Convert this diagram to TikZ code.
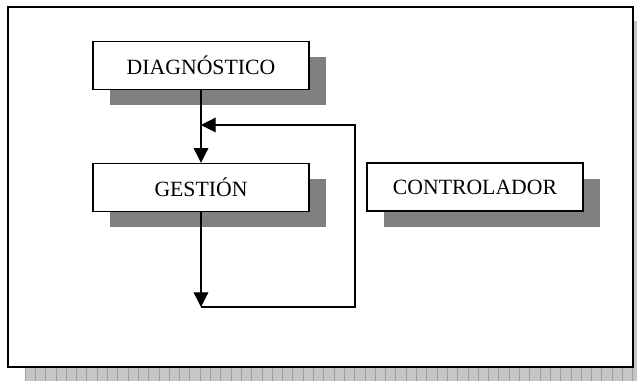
\documentclass[tikz,border=0pt]{standalone}
\usepackage{fontspec}
\setmainfont{Liberation Serif}
\usetikzlibrary{arrows.meta,shadows}

\tikzset{
  caja/.style={draw, line width=1.1pt, fill=white, minimum width=162pt,
    minimum height=36pt, inner sep=0pt, font=\fontsize{16.3}{19}\selectfont,
    drop shadow={shadow xshift=12.75pt, shadow yshift=-12pt, fill=gray, opacity=1}},
  flecha/.style={line width=0.9pt, -{Triangle[length=11pt, width=11pt]}}
}

\begin{document}
\begin{tikzpicture}[x=0.75pt, y=-0.75pt]
    \useasboundingbox (0,0) rectangle (637,381);

    % Sombra del marco
    \fill[gray!45!white] (25,21) rectangle (637,381);
    \foreach \x in {25,35.3,...,637} {
      \draw[gray!75!white, line width=0.5pt] (\x,21) -- (\x,381);
    }

    % Marco
    \draw[line width=1.5pt, fill=white] (8,7) rectangle (633,367);

    % Cajas
    \node[caja] (diag) at (201,65.5) {DIAGNÓSTICO};
    \node[caja] (gest) at (201,187.5) {GESTIÓN};
    \node[caja] (ctrl) at (475,187) {CONTROLADOR};

    % Puntos del lazo
    \coordinate (ret) at (201,307);
    \coordinate (esq) at (355,307);
    \coordinate (ent) at (201,125);

    % Conexiones
    \draw[flecha] (diag) -- (gest);
    \draw[flecha] (gest) -- (ret);
    \draw[flecha] (ret) -- (esq) |- (ent);
  \end{tikzpicture}
\end{document}
